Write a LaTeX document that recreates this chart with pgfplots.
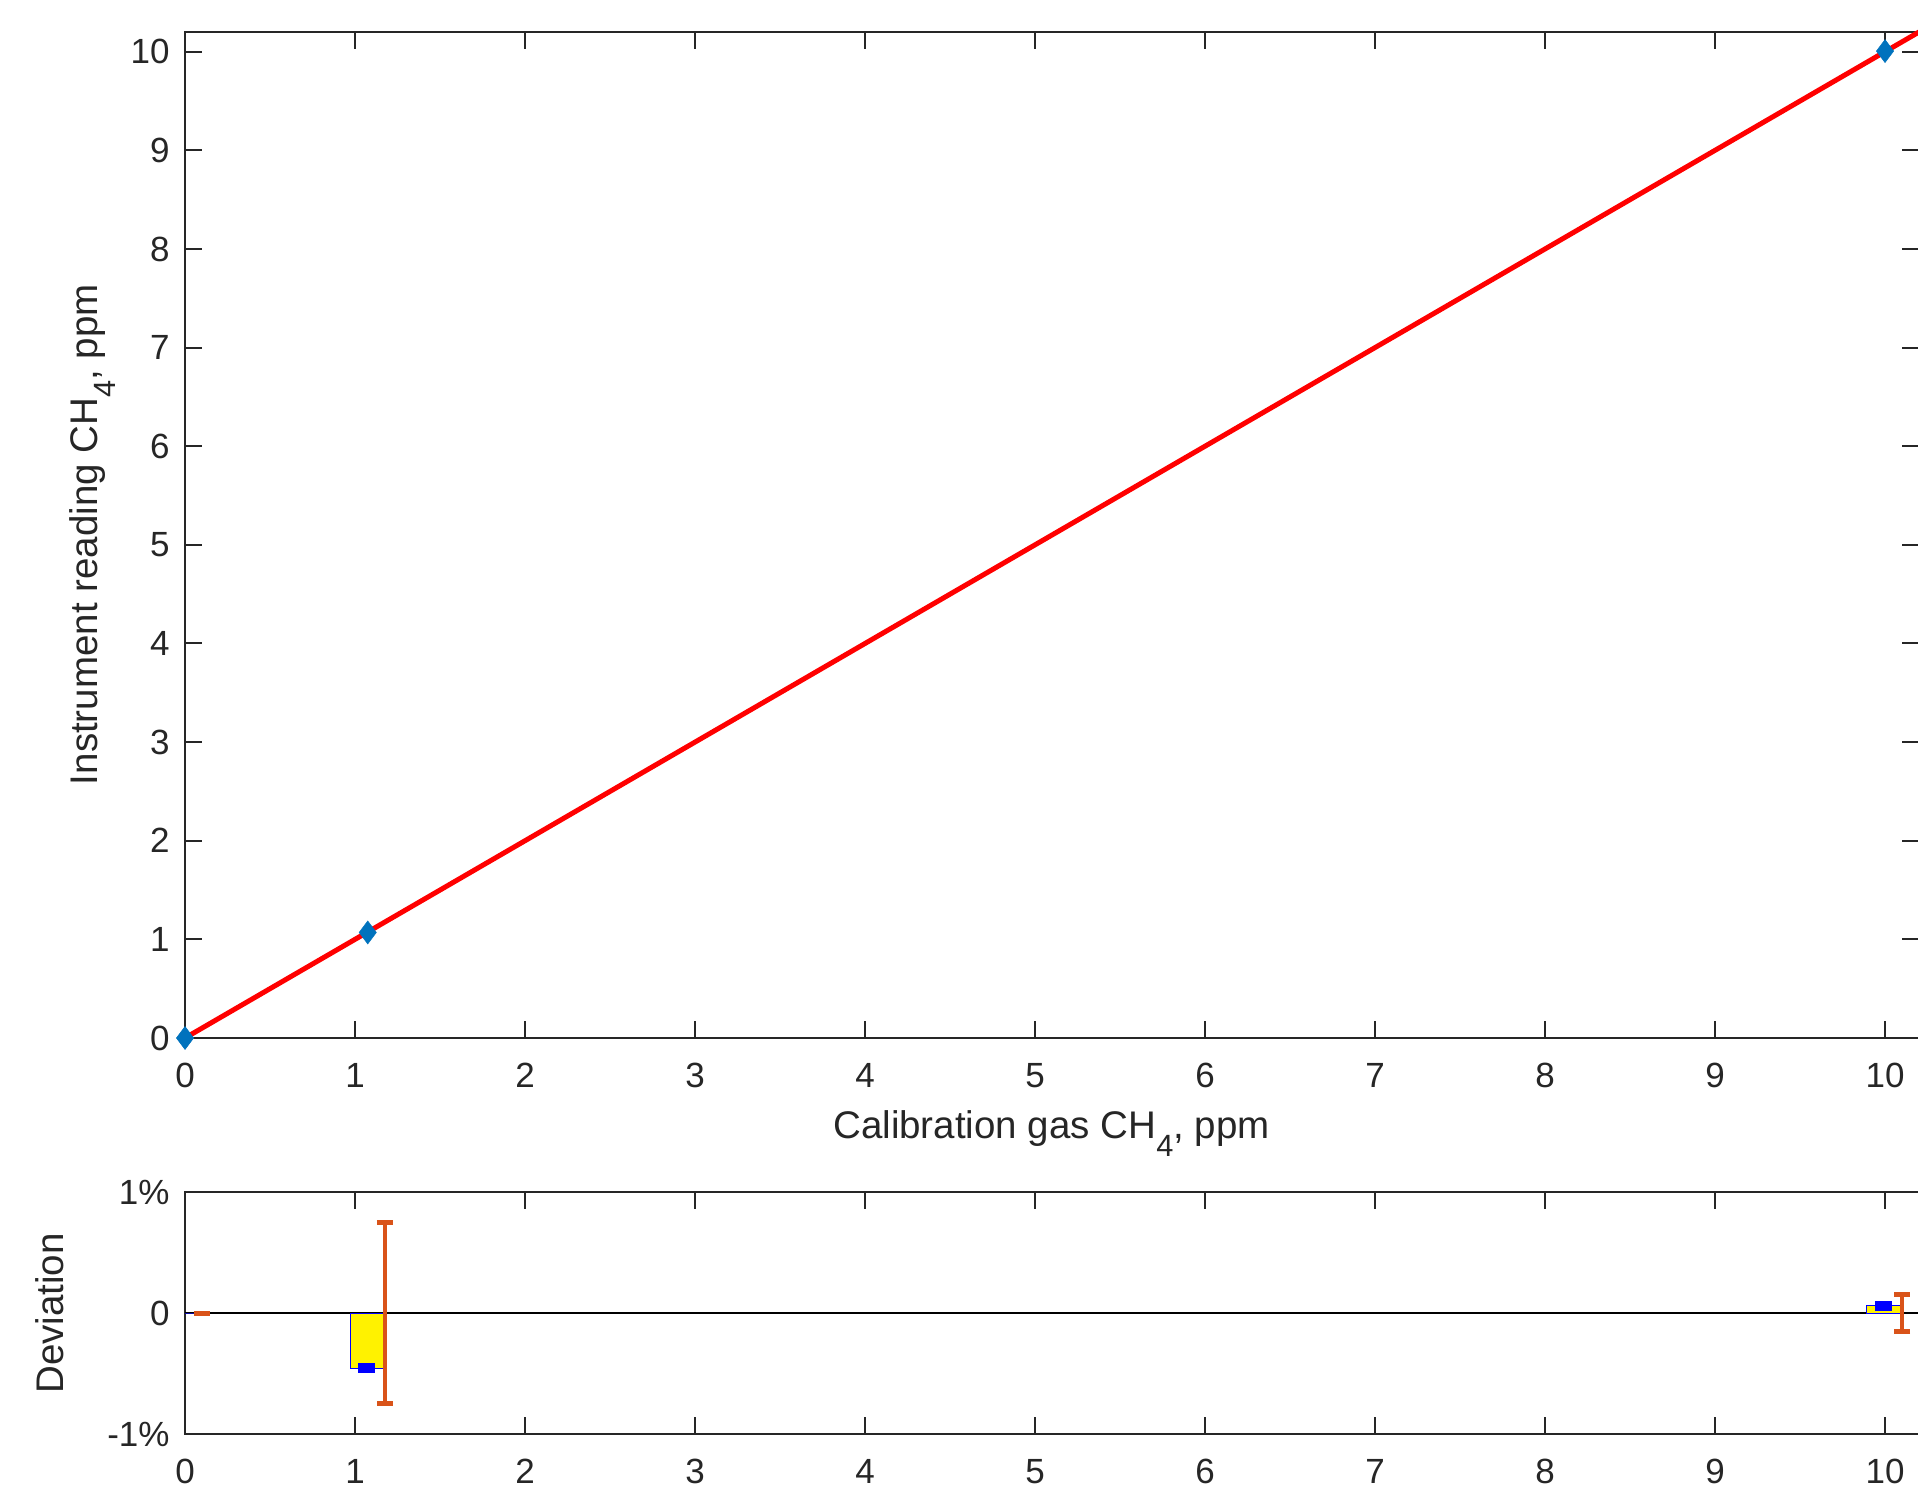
\documentclass[border=0pt]{standalone}
\usepackage{fontspec}
\setmainfont{Liberation Sans}
\usepackage{pgfplots}
\pgfplotsset{compat=1.18}
\definecolor{axgray}{RGB}{38,38,38}
\definecolor{mblue}{RGB}{0,114,189}
\definecolor{morange}{RGB}{217,83,25}
\newcommand{\sub}[1]{\raisebox{-7.4pt}{\fontsize{12.3}{13}\selectfont #1}}
\begin{document}
\fontsize{15.4}{18}\selectfont
\begin{tikzpicture}
\pgfplotsset{
  mystyle/.style={
    scale only axis,
    axis line style={axgray, line width=0.8pt},
    every tick/.style={axgray, line width=0.8pt},
    major tick length=6.8pt,
    tick align=inside,
    xtick pos=both, ytick pos=both,
    tick label style={font=\fontsize{14}{16.8}\selectfont, text=axgray},
    /pgf/number format/assume math mode=true,
    xticklabel style={anchor=north, inner sep=0pt, yshift=-10pt},
    yticklabel style={anchor=east, inner sep=0pt, xshift=-6pt},
    xmin=0, xmax=10.2,
    xtick={0,1,...,10},
  }
}
% top axis
\begin{axis}[mystyle,
  at={(74pt,179.2pt)}, anchor=south west,
  width=693.6pt, height=402.4pt,
  ymin=0, ymax=10.2,
  ytick={0,1,...,10},
  clip=false,
]
\addplot[red, line width=2pt] coordinates {(0,0) (10.2,10.2)};
\addplot[only marks, mark=diamond*, mark size=4.6pt, color=mblue,
  mark options={fill=mblue, draw=mblue, line width=0.2pt}]
  coordinates {(0,0) (1.075,1.070) (10,10.006)};
\end{axis}
% bottom axis
\begin{axis}[mystyle,
  at={(74pt,20.8pt)}, anchor=south west,
  width=693.6pt, height=96.8pt,
  ymin=-1, ymax=1,
  ytick={-1,0,1},
  yticklabels={-1\%,0,1\%},
]
\addplot[black, line width=0.45pt] coordinates {(0,0) (10.2,0)};
\addplot[ybar, bar shift=0pt, bar width=0.2, fill=yellow, draw=blue, line width=0.4pt]
  coordinates {(0,0) (1.072,-0.458) (9.99,0.06)};
\addplot[only marks, mark=square*, mark size=3.2pt, color=blue,
  mark options={fill=blue, draw=none, yscale=0.5625}]
  coordinates {(1.066,-0.458) (9.99,0.06)};
\addplot[draw=none, mark=none,
  error bars/.cd, y dir=both, y explicit,
  error bar style={draw=morange, line width=1.7pt},
  error mark options={rotate=90, draw=morange, line width=2pt, mark size=3.2pt}]
  coordinates {(0.1,0) +- (0,0) (1.175,0) +- (0,0.745) (10.1,0) +- (0,0.15)};
\end{axis}
% axis labels
\node[anchor=base, text=axgray] at (420.6pt,139.2pt) {Calibration gas CH\sub{4}, ppm};
\node[anchor=base, rotate=90, text=axgray] at (38.8pt,380.5pt) {Instrument reading CH\sub{4}, ppm};
\node[anchor=base, rotate=90, text=axgray] at (25.2pt,69pt) {Deviation};
\pgfresetboundingbox
\path (0,0) rectangle (767.2pt,594.4pt);
\end{tikzpicture}
\end{document}
